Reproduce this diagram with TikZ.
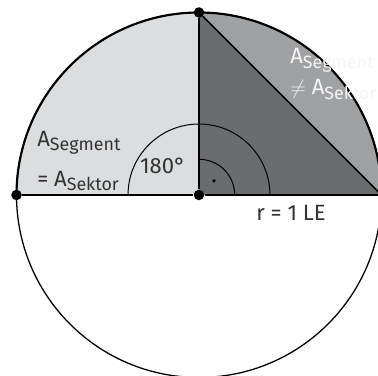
\documentclass[tikz,border=0pt]{standalone}
\usepackage{fontspec}
\setmainfont{Fira Sans}
\usetikzlibrary{calc}
\definecolor{hellgrau}{HTML}{DCDDDF}
\definecolor{mittelgrau}{HTML}{A0A1A3}
\definecolor{dunkelgrau}{HTML}{6B6C6E}
\newcommand{\idx}[1]{\raisebox{-0.4ex}{\fontsize{12.5}{12.5}\selectfont #1}}
\tikzset{
  punkt/.style={circle,fill=black,inner sep=0pt,minimum size=2.6mm},
  beschriftung/.style={font=\fontsize{15.5}{19}\selectfont,text=black!80,inner sep=0pt}
}
\begin{document}
\begin{tikzpicture}
  \useasboundingbox (-4.907,-4.463) rectangle (4.414,4.808);
  \clip (-4.907,-4.463) rectangle (4.414,4.808);
  % Flaechen
  \fill[hellgrau] (0,0) -- (4.5,0) arc (0:180:4.5) -- cycle;
  \fill[mittelgrau] (0,0) -- (4.5,0) arc (0:90:4.5) -- cycle;
  \fill[dunkelgrau] (0,0) -- (4.5,0) -- (0,4.5) -- cycle;
  % Kreis
  \draw[line width=0.9pt] (0,0) circle (4.5);
  \draw[line width=1.5pt] (4.5,0) arc (0:180:4.5);
  % Winkel
  \draw[line width=0.7pt] (1.75,0) arc (0:180:1.75);
  \draw[line width=0.7pt] (0.88,0) arc (0:90:0.88);
  \fill (0.37,0.35) circle (0.045);
  % Punkte und Strecken
  \node[punkt] (M) at (0,0) {};
  \node[punkt] (L) at (-4.5,0) {};
  \node[punkt] (O) at (0,4.5) {};
  \coordinate (R) at (4.5,0);
  \draw[line width=2pt] (L) -- (M) -- (R);
  \draw[line width=2pt] (M) -- (O);
  \draw[line width=1.1pt] (O) -- (R);
  % Beschriftungen
  \node[beschriftung] (winkel) at (-0.888,0.715) {180°};
  \node[beschriftung,anchor=west,align=left] (links) at (-3.995,0.838)
    {A\idx{Segment}\\[9pt]= A\idx{Sektor}};
  \node[beschriftung,anchor=west,align=left,text=black!4] (rechts) at (2.244,2.984)
    {A\idx{Segment}\\[3pt]$\neq$ A\idx{Sektor}};
  \node[beschriftung] (radius) at (2.27,-0.44) {r = 1 LE};
\end{tikzpicture}
\end{document}
